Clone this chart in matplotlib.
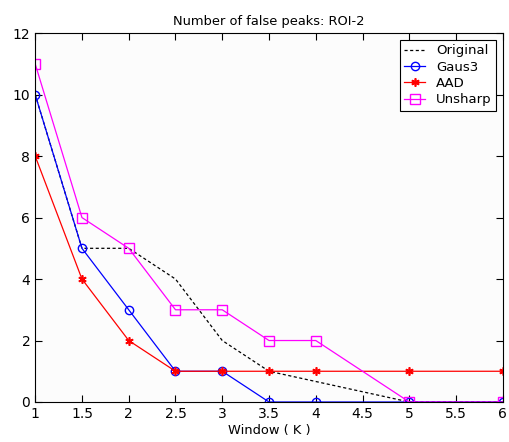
import numpy as np
import matplotlib
matplotlib.use('Agg')
from matplotlib import pyplot as plt

# valores
x_orig = [1, 1.5, 2, 2.5, 3, 3.5, 5, 6]
y_orig = [10, 5, 5, 4, 2, 1, 0, 0]

x_k = [1, 1.5, 2, 2.5, 3, 3.5, 4, 5, 6]
y_gaus3 = [10, 5, 3, 1, 1, 0, 0, 0, 0]
y_aad = [8, 4, 2, 1, 1, 1, 1, 1, 1]
y_unsharp = [11, 6, 5, 3, 3, 2, 2, 0, 0]

xticks = [1, 1.5, 2, 2.5, 3, 3.5, 4, 4.5, 5, 5.5, 6]
yticks = [0, 2, 4, 6, 8, 10, 12]

fig = plt.figure(figsize=(5.1, 4.42), dpi=100)
ax = fig.add_axes([0.069, 0.0905, 0.917, 0.8345])
ax.set_facecolor('#fcfcfc')

ax.plot(x_orig, y_orig, color='black', linestyle='--', linewidth=0.9, label='Original', dashes=(2.5, 2))
ax.plot(x_k, y_gaus3, color='blue', marker='o', markersize=6, markerfacecolor='none',
        linewidth=0.9, label='Gaus3')
ax.plot(x_k, y_aad, color='red', marker=(6, 2, 0), markersize=6, markeredgewidth=1.2,
        linewidth=0.9, label='AAD')
ax.plot(x_k, y_unsharp, color='magenta', marker='s', markersize=7, markerfacecolor='none',
        linewidth=0.9, label='Unsharp')

ax.set_xlim(1, 6)
ax.set_ylim(0, 12)
ax.set_xticks(xticks)
ax.set_xticklabels([('%g' % t) for t in xticks])
ax.set_yticks(yticks)
ax.tick_params(direction='in', top=True, right=True, length=5, labelsize=10)
for s in ax.spines.values():
    s.set_linewidth(0.8)

ax.set_title('Number of false peaks: ROI-2', fontsize=9.4, pad=6)
ax.set_xlabel('Window ( K )', fontsize=9.4, labelpad=2)

leg = ax.legend(loc='upper right', fontsize=9.5, fancybox=False, framealpha=1,
                edgecolor='black', borderaxespad=0.5, handlelength=1.6, labelspacing=0.25,
                borderpad=0.35)
leg.get_frame().set_linewidth(0.8)

plt.savefig('out.png', dpi=100)
